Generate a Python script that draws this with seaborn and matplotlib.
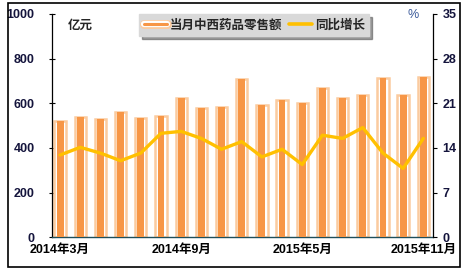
import matplotlib
matplotlib.use("Agg")
import matplotlib.pyplot as plt
import matplotlib.patheffects as pe
from matplotlib.lines import Line2D
from matplotlib.patches import Rectangle
import seaborn as sns
import pandas as pd

sns.set_theme(style="white")
plt.rcParams['font.family'] = ['Liberation Sans', 'Noto Sans CJK SC', 'DejaVu Sans']

months = ["2014年3月", "2014年4月", "2014年5月", "2014年6月", "2014年7月", "2014年8月",
          "2014年9月", "2014年10月", "2014年11月", "2014年12月", "2015年3月", "2015年4月",
          "2015年5月", "2015年6月", "2015年7月", "2015年8月", "2015年9月", "2015年10月",
          "2015年11月"]
sales = [520, 540, 530, 563, 536, 543, 625, 580, 585, 708, 592, 615, 603, 668, 624, 636, 713, 636, 716]
growth = [12.9, 14.1, 13.2, 12.0, 13.2, 16.3, 16.6, 15.5, 13.8, 15.0, 12.6, 13.8, 11.4, 16.0, 15.5, 17.2, 13.2, 10.8, 15.5]
shown_labels = ["2014年3月", "2014年9月", "2015年5月", "2015年11月"]

bar_name = "当月中西药品零售额"
line_name = "同比增长"

df = pd.DataFrame({"month": months, "sales": sales, "growth": growth})

ORANGE = "#F79646"
PALE = "#FBCB9F"
GOLD = "#FFC000"
NAVY = "#14143C"

fig = plt.figure(figsize=(4.69, 2.75), dpi=100)
ax = fig.add_axes([52/469, 1-237.3/275, (433-52)/469, (237.3-14)/275])

sns.barplot(data=df, x="month", y="sales", ax=ax, color="white", width=0.56,
            edgecolor=PALE, linewidth=1.8, saturation=1, zorder=2)
sns.barplot(data=df, x="month", y="sales", ax=ax, color=ORANGE, width=0.34,
            edgecolor="none", linewidth=0, saturation=1, zorder=3)

ax.set_ylim(0, 1000)
ax.set_yticks(range(0, 1001, 200))
ax.set_xlim(-0.40, 18.48)
ax.set_xlabel("")
ax.set_ylabel("")

ax.set_xticks(range(len(months)))
ax.set_xticklabels([m if m in shown_labels else "" for m in months],
                   fontsize=9, fontweight="bold", color="black",
                   family=['Liberation Sans', 'Noto Sans CJK SC'])
ax.tick_params(axis="x", which="major", length=0, pad=5)
ax.set_xticks([i + 0.5 for i in range(len(months) - 1)], minor=True)
ax.tick_params(axis="x", which="minor", direction="in", length=3, color="#1F4E5A", width=0.8)
ax.tick_params(axis="y", direction="inout", length=5, width=0.8, color="black",
               labelsize=9, labelcolor=NAVY, pad=10, left=True)
for lab in ax.get_yticklabels():
    lab.set_fontweight("bold")

for s in ["top", "right"]:
    ax.spines[s].set_visible(False)
ax.spines["left"].set_color("black")
ax.spines["left"].set_linewidth(0.9)
ax.spines["bottom"].set_color("#1F4E5A")
ax.spines["bottom"].set_linewidth(1.0)

ax2 = ax.twinx()
sns.lineplot(data=df, x="month", y="growth", ax=ax2, color=GOLD, linewidth=2.4,
             sort=False, zorder=5)
ax2.lines[0].set_solid_joinstyle("round")
ax2.lines[0].set_solid_capstyle("round")
ax2.set_ylim(0, 35)
ax2.set_yticks(range(0, 36, 7))
ax2.set_ylabel("")
ax2.set_xlabel("")
ax2.set_xlim(-0.40, 18.48)
for s in ["top", "left", "bottom"]:
    ax2.spines[s].set_visible(False)
ax2.spines["right"].set_color("black")
ax2.spines["right"].set_linewidth(0.9)
ax2.tick_params(axis="y", direction="out", length=3, width=0.8, color="black",
                labelsize=9, labelcolor=NAVY, pad=4, right=True)
for lab in ax2.get_yticklabels():
    lab.set_fontweight("bold")

fig.text(68/469, 1-25/275, "亿元", fontsize=9, fontweight="bold", va="center", ha="left",
         family=['Noto Sans CJK SC'])
fig.text(413/469, 1-15/275, "%", fontsize=9, va="center", ha="center", color="#3A5A9A")

h_bar = Line2D([], [], color=ORANGE, linewidth=2.2,
               path_effects=[pe.Stroke(linewidth=6.5, foreground=PALE),
                             pe.Stroke(linewidth=4.5, foreground="white"), pe.Normal()])
h_line = Line2D([], [], color=GOLD, linewidth=2.6)
leg = fig.legend([h_bar, h_line], [bar_name, line_name], loc="upper left",
                 bbox_to_anchor=(133/469, 1-8/275), ncol=2, frameon=True, fancybox=False,
                 shadow=True, handlelength=1.9, handletextpad=0.2, columnspacing=0.5,
                 borderpad=0.35, prop={"family": ['Noto Sans CJK SC'], "weight": "bold", "size": 9})
leg.get_frame().set_facecolor("#D9D9D9")
leg.get_frame().set_edgecolor("#D9D9D9")

fig.patches.append(Rectangle((8/469, 1-267/275), (460-8)/469, (267-3)/275,
                             transform=fig.transFigure, fill=False, edgecolor="black",
                             linewidth=1.2))

fig.savefig("out.png", dpi=100)
